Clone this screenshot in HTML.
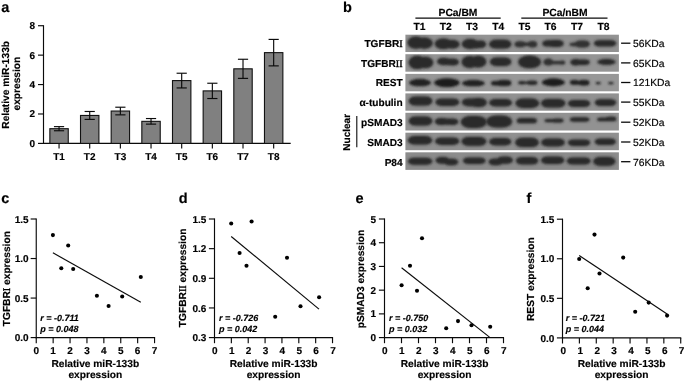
<!DOCTYPE html>
<html><head><meta charset="utf-8"><title>Figure</title>
<style>html,body{margin:0;padding:0;background:#fff;}svg{display:block;will-change:transform;}text{font-family:"Liberation Sans", sans-serif;fill:#000;stroke:#000;stroke-width:0.16px;text-rendering:geometricPrecision;}.rn{font-family:"Liberation Serif", serif;font-weight:normal;stroke:#000;stroke-width:0.4px;}</style></head><body>
<svg width="685" height="382" viewBox="0 0 685 382">
<rect x="0" y="0" width="685" height="382" fill="#fff"/>
<defs><filter id="bl" x="-30%" y="-80%" width="160%" height="260%"><feGaussianBlur stdDeviation="1.0"/></filter><filter id="halo" x="-40%" y="-150%" width="180%" height="400%"><feGaussianBlur stdDeviation="2.2"/></filter></defs>
<text x="1.3" y="12.4" font-size="14.5" text-anchor="start" font-weight="bold" font-style="normal">a</text>
<text x="343.0" y="11.9" font-size="14.5" text-anchor="start" font-weight="bold" font-style="normal">b</text>
<text x="1.2" y="203.0" font-size="14.5" text-anchor="start" font-weight="bold" font-style="normal">c</text>
<text x="178.8" y="202.6" font-size="14.5" text-anchor="start" font-weight="bold" font-style="normal">d</text>
<text x="355.5" y="202.6" font-size="14.5" text-anchor="start" font-weight="bold" font-style="normal">e</text>
<text x="526.6" y="202.6" font-size="14.5" text-anchor="start" font-weight="bold" font-style="normal">f</text>
<line x1="43.5" y1="25.22" x2="43.5" y2="143.9" stroke="#0a0a0a" stroke-width="1.15"/>
<line x1="43" y1="143.4" x2="290.7" y2="143.4" stroke="#0a0a0a" stroke-width="1.15"/>
<line x1="38" y1="143.4" x2="43.5" y2="143.4" stroke="#0a0a0a" stroke-width="1.15"/>
<text x="35.0" y="146.8" font-size="10.0" text-anchor="end" font-weight="bold" font-style="normal">0</text>
<line x1="38" y1="113.98" x2="43.5" y2="113.98" stroke="#0a0a0a" stroke-width="1.15"/>
<text x="35.0" y="117.38" font-size="10.0" text-anchor="end" font-weight="bold" font-style="normal">2</text>
<line x1="38" y1="84.56" x2="43.5" y2="84.56" stroke="#0a0a0a" stroke-width="1.15"/>
<text x="35.0" y="87.96" font-size="10.0" text-anchor="end" font-weight="bold" font-style="normal">4</text>
<line x1="38" y1="55.14" x2="43.5" y2="55.14" stroke="#0a0a0a" stroke-width="1.15"/>
<text x="35.0" y="58.54" font-size="10.0" text-anchor="end" font-weight="bold" font-style="normal">6</text>
<line x1="38" y1="25.72" x2="43.5" y2="25.72" stroke="#0a0a0a" stroke-width="1.15"/>
<text x="35.0" y="29.12" font-size="10.0" text-anchor="end" font-weight="bold" font-style="normal">8</text>
<rect x="49.85" y="128.69" width="18.4" height="14.71" fill="#808080" stroke="#111" stroke-width="1.1"/>
<line x1="59.05" y1="126.63" x2="59.05" y2="130.75" stroke="#0a0a0a" stroke-width="1.15"/>
<line x1="53.95" y1="126.63" x2="64.15" y2="126.63" stroke="#0a0a0a" stroke-width="1.15"/>
<line x1="53.95" y1="130.75" x2="64.15" y2="130.75" stroke="#0a0a0a" stroke-width="1.15"/>
<line x1="59.05" y1="143.4" x2="59.05" y2="148.6" stroke="#0a0a0a" stroke-width="1.15"/>
<text x="59.05" y="160.0" font-size="10.0" text-anchor="middle" font-weight="bold" font-style="normal">T1</text>
<rect x="80.51" y="115.45" width="18.4" height="27.95" fill="#808080" stroke="#111" stroke-width="1.1"/>
<line x1="89.71" y1="111.48" x2="89.71" y2="119.42" stroke="#0a0a0a" stroke-width="1.15"/>
<line x1="84.61" y1="111.48" x2="94.81" y2="111.48" stroke="#0a0a0a" stroke-width="1.15"/>
<line x1="84.61" y1="119.42" x2="94.81" y2="119.42" stroke="#0a0a0a" stroke-width="1.15"/>
<line x1="89.71" y1="143.4" x2="89.71" y2="148.6" stroke="#0a0a0a" stroke-width="1.15"/>
<text x="89.71" y="160.0" font-size="10.0" text-anchor="middle" font-weight="bold" font-style="normal">T2</text>
<rect x="111.17" y="111.04" width="18.4" height="32.36" fill="#808080" stroke="#111" stroke-width="1.1"/>
<line x1="120.37" y1="107.21" x2="120.37" y2="114.86" stroke="#0a0a0a" stroke-width="1.15"/>
<line x1="115.27" y1="107.21" x2="125.47" y2="107.21" stroke="#0a0a0a" stroke-width="1.15"/>
<line x1="115.27" y1="114.86" x2="125.47" y2="114.86" stroke="#0a0a0a" stroke-width="1.15"/>
<line x1="120.37" y1="143.4" x2="120.37" y2="148.6" stroke="#0a0a0a" stroke-width="1.15"/>
<text x="120.37" y="160.0" font-size="10.0" text-anchor="middle" font-weight="bold" font-style="normal">T3</text>
<rect x="141.83" y="121.34" width="18.4" height="22.06" fill="#808080" stroke="#111" stroke-width="1.1"/>
<line x1="151.03" y1="118.54" x2="151.03" y2="124.13" stroke="#0a0a0a" stroke-width="1.15"/>
<line x1="145.93" y1="118.54" x2="156.13" y2="118.54" stroke="#0a0a0a" stroke-width="1.15"/>
<line x1="145.93" y1="124.13" x2="156.13" y2="124.13" stroke="#0a0a0a" stroke-width="1.15"/>
<line x1="151.03" y1="143.4" x2="151.03" y2="148.6" stroke="#0a0a0a" stroke-width="1.15"/>
<text x="151.03" y="160.0" font-size="10.0" text-anchor="middle" font-weight="bold" font-style="normal">T4</text>
<rect x="172.49" y="80.59" width="18.4" height="62.81" fill="#808080" stroke="#111" stroke-width="1.1"/>
<line x1="181.69" y1="73.23" x2="181.69" y2="87.94" stroke="#0a0a0a" stroke-width="1.15"/>
<line x1="176.59" y1="73.23" x2="186.79" y2="73.23" stroke="#0a0a0a" stroke-width="1.15"/>
<line x1="176.59" y1="87.94" x2="186.79" y2="87.94" stroke="#0a0a0a" stroke-width="1.15"/>
<line x1="181.69" y1="143.4" x2="181.69" y2="148.6" stroke="#0a0a0a" stroke-width="1.15"/>
<text x="181.69" y="160.0" font-size="10.0" text-anchor="middle" font-weight="bold" font-style="normal">T5</text>
<rect x="203.15" y="90.89" width="18.4" height="52.51" fill="#808080" stroke="#111" stroke-width="1.1"/>
<line x1="212.35" y1="83.24" x2="212.35" y2="98.53" stroke="#0a0a0a" stroke-width="1.15"/>
<line x1="207.25" y1="83.24" x2="217.45" y2="83.24" stroke="#0a0a0a" stroke-width="1.15"/>
<line x1="207.25" y1="98.53" x2="217.45" y2="98.53" stroke="#0a0a0a" stroke-width="1.15"/>
<line x1="212.35" y1="143.4" x2="212.35" y2="148.6" stroke="#0a0a0a" stroke-width="1.15"/>
<text x="212.35" y="160.0" font-size="10.0" text-anchor="middle" font-weight="bold" font-style="normal">T6</text>
<rect x="233.81" y="68.82" width="18.4" height="74.58" fill="#808080" stroke="#111" stroke-width="1.1"/>
<line x1="243.01" y1="59.26" x2="243.01" y2="78.38" stroke="#0a0a0a" stroke-width="1.15"/>
<line x1="237.91" y1="59.26" x2="248.11" y2="59.26" stroke="#0a0a0a" stroke-width="1.15"/>
<line x1="237.91" y1="78.38" x2="248.11" y2="78.38" stroke="#0a0a0a" stroke-width="1.15"/>
<line x1="243.01" y1="143.4" x2="243.01" y2="148.6" stroke="#0a0a0a" stroke-width="1.15"/>
<text x="243.01" y="160.0" font-size="10.0" text-anchor="middle" font-weight="bold" font-style="normal">T7</text>
<rect x="264.47" y="52.64" width="18.4" height="90.76" fill="#808080" stroke="#111" stroke-width="1.1"/>
<line x1="273.67" y1="39.4" x2="273.67" y2="65.88" stroke="#0a0a0a" stroke-width="1.15"/>
<line x1="268.57" y1="39.4" x2="278.77" y2="39.4" stroke="#0a0a0a" stroke-width="1.15"/>
<line x1="268.57" y1="65.88" x2="278.77" y2="65.88" stroke="#0a0a0a" stroke-width="1.15"/>
<line x1="273.67" y1="143.4" x2="273.67" y2="148.6" stroke="#0a0a0a" stroke-width="1.15"/>
<text x="273.67" y="160.0" font-size="10.0" text-anchor="middle" font-weight="bold" font-style="normal">T8</text>
<text x="9.2" y="84.8" font-size="10.2" text-anchor="middle" font-weight="bold" font-style="normal" transform="rotate(-90 9.2 84.8)">Relative miR-133b</text>
<text x="19.7" y="83.6" font-size="10.2" text-anchor="middle" font-weight="bold" font-style="normal" transform="rotate(-90 19.7 83.6)">expression</text>
<text x="458.0" y="15.8" font-size="10.3" text-anchor="middle" font-weight="bold" font-style="normal">PCa/BM</text>
<text x="565.0" y="15.8" font-size="10.3" text-anchor="middle" font-weight="bold" font-style="normal">PCa/nBM</text>
<line x1="415.4" y1="18.1" x2="500.7" y2="18.1" stroke="#0a0a0a" stroke-width="1.1"/>
<line x1="521.3" y1="18.1" x2="607.5" y2="18.1" stroke="#0a0a0a" stroke-width="1.1"/>
<text x="419.5" y="30.3" font-size="10.3" text-anchor="middle" font-weight="bold" font-style="normal">T1</text>
<text x="445.8" y="30.3" font-size="10.3" text-anchor="middle" font-weight="bold" font-style="normal">T2</text>
<text x="471.9" y="30.3" font-size="10.3" text-anchor="middle" font-weight="bold" font-style="normal">T3</text>
<text x="498.2" y="30.3" font-size="10.3" text-anchor="middle" font-weight="bold" font-style="normal">T4</text>
<text x="524.4" y="30.3" font-size="10.3" text-anchor="middle" font-weight="bold" font-style="normal">T5</text>
<text x="550.6" y="30.3" font-size="10.3" text-anchor="middle" font-weight="bold" font-style="normal">T6</text>
<text x="577.0" y="30.3" font-size="10.3" text-anchor="middle" font-weight="bold" font-style="normal">T7</text>
<text x="603.5" y="30.3" font-size="10.3" text-anchor="middle" font-weight="bold" font-style="normal">T8</text>
<rect x="405.4" y="34.7" width="213.5" height="17.3" fill="#939393"/>
<text x="402.6" y="47.1" font-size="10.1" text-anchor="end" font-weight="bold" font-style="normal">TGFBR<tspan class="rn">I</tspan></text>
<line x1="621.1" y1="43.2" x2="630.4" y2="43.2" stroke="#0a0a0a" stroke-width="1.3"/>
<text x="633.0" y="47.1" font-size="10.3" text-anchor="start" font-weight="normal" font-style="normal" stroke="#000" stroke-width="0.25">56KDa</text>
<rect x="405.4" y="54.2" width="213.5" height="17.5" fill="#949494"/>
<text x="402.6" y="66.8" font-size="10.1" text-anchor="end" font-weight="bold" font-style="normal">TGFBR<tspan class="rn">II</tspan></text>
<line x1="621.1" y1="62.9" x2="630.4" y2="62.9" stroke="#0a0a0a" stroke-width="1.3"/>
<text x="633.0" y="66.8" font-size="10.3" text-anchor="start" font-weight="normal" font-style="normal" stroke="#000" stroke-width="0.25">65KDa</text>
<rect x="405.4" y="73.9" width="213.5" height="17.4" fill="#979797"/>
<text x="402.6" y="86.4" font-size="10.1" text-anchor="end" font-weight="bold" font-style="normal">REST</text>
<line x1="621.1" y1="82.5" x2="630.4" y2="82.5" stroke="#0a0a0a" stroke-width="1.3"/>
<text x="633.0" y="86.4" font-size="10.3" text-anchor="start" font-weight="normal" font-style="normal" stroke="#000" stroke-width="0.25">121KDa</text>
<rect x="405.4" y="93.4" width="213.5" height="17.3" fill="#919191"/>
<text x="402.6" y="106.0" font-size="10.1" text-anchor="end" font-weight="bold" font-style="normal">&#945;-tubulin</text>
<line x1="621.1" y1="102.1" x2="630.4" y2="102.1" stroke="#0a0a0a" stroke-width="1.3"/>
<text x="633.0" y="106.0" font-size="10.3" text-anchor="start" font-weight="normal" font-style="normal" stroke="#000" stroke-width="0.25">55KDa</text>
<rect x="405.4" y="112.8" width="213.5" height="17.7" fill="#929292"/>
<text x="402.6" y="126.1" font-size="10.1" text-anchor="end" font-weight="bold" font-style="normal">pSMAD3</text>
<line x1="621.1" y1="122.2" x2="630.4" y2="122.2" stroke="#0a0a0a" stroke-width="1.3"/>
<text x="633.0" y="126.1" font-size="10.3" text-anchor="start" font-weight="normal" font-style="normal" stroke="#000" stroke-width="0.25">52KDa</text>
<rect x="405.4" y="132.7" width="213.5" height="17.5" fill="#909090"/>
<text x="402.6" y="145.9" font-size="10.1" text-anchor="end" font-weight="bold" font-style="normal">SMAD3</text>
<line x1="621.1" y1="142" x2="630.4" y2="142" stroke="#0a0a0a" stroke-width="1.3"/>
<text x="633.0" y="145.9" font-size="10.3" text-anchor="start" font-weight="normal" font-style="normal" stroke="#000" stroke-width="0.25">52KDa</text>
<rect x="405.4" y="152.3" width="213.5" height="17.6" fill="#8c8c8c"/>
<text x="402.6" y="165.6" font-size="10.1" text-anchor="end" font-weight="bold" font-style="normal">P84</text>
<line x1="621.1" y1="161.7" x2="630.4" y2="161.7" stroke="#0a0a0a" stroke-width="1.3"/>
<text x="633.0" y="165.6" font-size="10.3" text-anchor="start" font-weight="normal" font-style="normal" stroke="#000" stroke-width="0.25">76KDa</text>
<text x="349.8" y="132.3" font-size="10" text-anchor="middle" font-weight="bold" font-style="normal" transform="rotate(-90 349.8 132.3)">Nuclear</text>
<line x1="356.8" y1="115.9" x2="356.8" y2="147.3" stroke="#0a0a0a" stroke-width="1.1"/>
<clipPath id="cp"><rect x="405.4" y="30" width="213.5" height="145"/></clipPath>
<clipPath id="cs0"><rect x="405.4" y="34.7" width="213.5" height="17.3"/></clipPath>
<clipPath id="cs1"><rect x="405.4" y="54.2" width="213.5" height="17.5"/></clipPath>
<clipPath id="cs2"><rect x="405.4" y="73.9" width="213.5" height="17.4"/></clipPath>
<clipPath id="cs3"><rect x="405.4" y="93.4" width="213.5" height="17.3"/></clipPath>
<clipPath id="cs4"><rect x="405.4" y="112.8" width="213.5" height="17.7"/></clipPath>
<clipPath id="cs5"><rect x="405.4" y="132.7" width="213.5" height="17.5"/></clipPath>
<clipPath id="cs6"><rect x="405.4" y="152.3" width="213.5" height="17.6"/></clipPath>
<g clip-path="url(#cs0)"><g fill="#1c1c1c" opacity="0.3" filter="url(#halo)"><rect x="407.50" y="36.40" width="17.00" height="12.30" rx="8.50" ry="6.15"/><rect x="416.00" y="37.60" width="16.70" height="11.10" rx="8.35" ry="5.55"/></g></g>
<g clip-path="url(#cs0)"><g fill="#1c1c1c" opacity="0.3" filter="url(#halo)"><rect x="434.80" y="38.60" width="17.20" height="10.30" rx="8.24" ry="5.15"/><rect x="445.00" y="40.00" width="14.50" height="8.60" rx="6.88" ry="4.30"/></g></g>
<g clip-path="url(#cs0)"><g fill="#1c1c1c" opacity="0.3" filter="url(#halo)"><rect x="461.90" y="39.10" width="16.60" height="9.90" rx="7.92" ry="4.95"/><rect x="470.00" y="40.80" width="12.00" height="7.60" rx="6.00" ry="3.80"/><rect x="475.50" y="40.50" width="10.50" height="7.50" rx="5.25" ry="3.75"/></g></g>
<g clip-path="url(#cs0)"><g fill="#1c1c1c" opacity="0.3" filter="url(#halo)"><rect x="489.20" y="39.70" width="22.10" height="8.90" rx="7.12" ry="4.45"/></g></g>
<g clip-path="url(#cs0)"><g fill="#1c1c1c" opacity="0.2" filter="url(#halo)"><rect x="514.60" y="41.20" width="11.00" height="6.00" rx="4.80" ry="3.00"/><rect x="521.00" y="42.50" width="11.00" height="3.40" rx="2.72" ry="1.70"/><rect x="528.00" y="40.90" width="9.10" height="6.60" rx="4.55" ry="3.30"/></g></g>
<g clip-path="url(#cs0)"><g fill="#1c1c1c" opacity="0.2" filter="url(#halo)"><rect x="542.30" y="40.20" width="13.70" height="6.40" rx="5.12" ry="3.20"/><rect x="548.00" y="39.90" width="15.70" height="7.10" rx="5.68" ry="3.55"/></g></g>
<g clip-path="url(#cs0)"><g fill="#1c1c1c" opacity="0.2" filter="url(#halo)"><rect x="574.80" y="40.60" width="15.00" height="6.80" rx="5.44" ry="3.40"/><ellipse cx="574.75" cy="44.40" rx="5.25" ry="1.80"/></g></g>
<g clip-path="url(#cs0)"><g fill="#1c1c1c" opacity="0.2" filter="url(#halo)"><rect x="594.00" y="40.20" width="22.10" height="6.30" rx="5.04" ry="3.15"/></g></g>
<g clip-path="url(#cs1)"><g fill="#1c1c1c" opacity="0.3" filter="url(#halo)"><rect x="408.70" y="55.70" width="17.30" height="13.40" rx="8.65" ry="6.70"/><rect x="418.00" y="56.80" width="15.20" height="11.40" rx="7.60" ry="5.70"/></g></g>
<g clip-path="url(#cs1)"><g fill="#1c1c1c" opacity="0.2" filter="url(#halo)"><rect x="437.10" y="57.70" width="12.90" height="7.50" rx="6.00" ry="3.75"/><rect x="443.00" y="58.60" width="11.00" height="6.60" rx="5.28" ry="3.30"/><rect x="447.00" y="58.40" width="11.90" height="7.20" rx="5.76" ry="3.60"/></g></g>
<g clip-path="url(#cs1)"><g fill="#1c1c1c" opacity="0.3" filter="url(#halo)"><rect x="461.60" y="56.00" width="16.40" height="12.00" rx="8.20" ry="6.00"/><rect x="470.00" y="55.70" width="16.30" height="11.90" rx="8.15" ry="5.95"/></g></g>
<g clip-path="url(#cs1)"><g fill="#1c1c1c" opacity="0.3" filter="url(#halo)"><rect x="490.00" y="57.40" width="21.30" height="8.50" rx="6.80" ry="4.25"/></g></g>
<g clip-path="url(#cs1)"><g fill="#1c1c1c" opacity="0.3" filter="url(#halo)"><rect x="518.20" y="55.90" width="22.80" height="12.00" rx="9.60" ry="6.00"/><ellipse cx="529.50" cy="61.90" rx="10.00" ry="6.30"/></g></g>
<g clip-path="url(#cs1)"><g fill="#1c1c1c" opacity="0.2" filter="url(#halo)"><rect x="543.30" y="58.60" width="10.10" height="7.00" rx="5.05" ry="3.50"/><rect x="549.00" y="60.90" width="15.80" height="3.40" rx="2.72" ry="1.70"/><ellipse cx="562.35" cy="62.60" rx="2.85" ry="2.00"/></g></g>
<g clip-path="url(#cs1)"><g fill="#1c1c1c" opacity="0.2" filter="url(#halo)"><rect x="570.40" y="59.10" width="10.60" height="6.30" rx="5.04" ry="3.15"/><rect x="576.00" y="59.60" width="13.60" height="5.50" rx="4.40" ry="2.75"/></g></g>
<g clip-path="url(#cs1)"><g fill="#1c1c1c" opacity="0.2" filter="url(#halo)"><ellipse cx="606.50" cy="61.95" rx="9.30" ry="2.85"/><rect x="600.00" y="59.50" width="13.50" height="4.90" rx="3.92" ry="2.45"/></g></g>
<g clip-path="url(#cs2)"><g fill="#1c1c1c" opacity="0.2" filter="url(#halo)"><ellipse cx="420.05" cy="82.65" rx="11.05" ry="3.55"/><rect x="412.00" y="79.50" width="16.00" height="6.40" rx="5.12" ry="3.20"/></g></g>
<g clip-path="url(#cs2)"><g fill="#1c1c1c" opacity="0.3" filter="url(#halo)"><ellipse cx="446.90" cy="82.80" rx="12.60" ry="4.20"/><rect x="438.00" y="79.00" width="18.00" height="7.60" rx="6.08" ry="3.80"/></g></g>
<g clip-path="url(#cs2)"><g fill="#1c1c1c" opacity="0.2" filter="url(#halo)"><ellipse cx="473.40" cy="83.20" rx="11.40" ry="3.10"/><rect x="465.00" y="80.50" width="16.00" height="5.50" rx="4.40" ry="2.75"/></g></g>
<g clip-path="url(#cs2)"><g fill="#1c1c1c" opacity="0.2" filter="url(#halo)"><rect x="491.10" y="81.10" width="12.90" height="4.40" rx="3.52" ry="2.20"/><rect x="497.00" y="80.10" width="14.30" height="5.90" rx="4.72" ry="2.95"/></g></g>
<g clip-path="url(#cs2)"><g fill="#1c1c1c" opacity="0.12" filter="url(#halo)"><rect x="518.00" y="81.00" width="8.00" height="3.50" rx="2.80" ry="1.75"/><rect x="523.00" y="81.80" width="7.00" height="2.30" rx="1.84" ry="1.15"/><rect x="526.80" y="80.60" width="10.60" height="4.50" rx="3.60" ry="2.25"/></g></g>
<g clip-path="url(#cs2)"><g fill="#1c1c1c" opacity="0.2" filter="url(#halo)"><ellipse cx="553.40" cy="82.40" rx="11.40" ry="3.80"/><rect x="546.00" y="79.20" width="15.00" height="6.50" rx="5.20" ry="3.25"/></g></g>
<g clip-path="url(#cs2)"><g fill="#1c1c1c" opacity="0.2" filter="url(#halo)"><rect x="570.00" y="80.10" width="9.00" height="4.70" rx="3.76" ry="2.35"/><rect x="575.00" y="81.00" width="7.00" height="3.40" rx="2.72" ry="1.70"/><rect x="578.20" y="80.10" width="11.30" height="5.40" rx="4.32" ry="2.70"/></g></g>
<g clip-path="url(#cs2)"><g fill="#1c1c1c" opacity="0.12" filter="url(#halo)"><ellipse cx="598.20" cy="83.10" rx="2.60" ry="1.20"/></g></g>
<g clip-path="url(#cs2)"><g fill="#1c1c1c" opacity="0.12" filter="url(#halo)"><ellipse cx="610.90" cy="83.10" rx="2.70" ry="1.20"/></g></g>
<g clip-path="url(#cs3)"><g fill="#1c1c1c" opacity="0.3" filter="url(#halo)"><rect x="408.70" y="96.40" width="23.70" height="9.20" rx="7.36" ry="4.60"/></g></g>
<g clip-path="url(#cs3)"><g fill="#1c1c1c" opacity="0.2" filter="url(#halo)"><rect x="435.50" y="98.50" width="23.70" height="7.40" rx="5.92" ry="3.70"/></g></g>
<g clip-path="url(#cs3)"><g fill="#1c1c1c" opacity="0.3" filter="url(#halo)"><rect x="462.00" y="98.40" width="18.00" height="7.80" rx="6.24" ry="3.90"/><rect x="470.00" y="98.00" width="16.80" height="9.00" rx="7.20" ry="4.50"/></g></g>
<g clip-path="url(#cs3)"><g fill="#1c1c1c" opacity="0.2" filter="url(#halo)"><rect x="489.20" y="99.10" width="22.80" height="7.30" rx="5.84" ry="3.65"/></g></g>
<g clip-path="url(#cs3)"><g fill="#1c1c1c" opacity="0.3" filter="url(#halo)"><rect x="515.50" y="98.50" width="23.60" height="9.50" rx="7.60" ry="4.75"/></g></g>
<g clip-path="url(#cs3)"><g fill="#1c1c1c" opacity="0.3" filter="url(#halo)"><rect x="541.20" y="99.10" width="24.10" height="8.40" rx="6.72" ry="4.20"/></g></g>
<g clip-path="url(#cs3)"><g fill="#1c1c1c" opacity="0.2" filter="url(#halo)"><rect x="568.00" y="100.10" width="22.10" height="6.90" rx="5.52" ry="3.45"/></g></g>
<g clip-path="url(#cs3)"><g fill="#1c1c1c" opacity="0.2" filter="url(#halo)"><rect x="594.80" y="99.30" width="21.30" height="6.60" rx="5.28" ry="3.30"/></g></g>
<g clip-path="url(#cs4)"><g fill="#1c1c1c" opacity="0.3" filter="url(#halo)"><rect x="408.70" y="116.50" width="23.70" height="9.00" rx="7.20" ry="4.50"/></g></g>
<g clip-path="url(#cs4)"><g fill="#1c1c1c" opacity="0.2" filter="url(#halo)"><rect x="434.80" y="118.00" width="13.70" height="7.00" rx="5.60" ry="3.50"/><rect x="442.00" y="118.40" width="11.00" height="6.40" rx="5.12" ry="3.20"/><rect x="446.50" y="118.50" width="11.90" height="6.50" rx="5.20" ry="3.25"/></g></g>
<g clip-path="url(#cs4)"><g fill="#1c1c1c" opacity="0.3" filter="url(#halo)"><rect x="460.80" y="116.00" width="25.90" height="12.00" rx="9.60" ry="6.00"/></g></g>
<g clip-path="url(#cs4)"><g fill="#1c1c1c" opacity="0.3" filter="url(#halo)"><rect x="486.30" y="115.40" width="25.70" height="12.20" rx="9.76" ry="6.10"/></g></g>
<g clip-path="url(#cs4)"><g fill="#1c1c1c" opacity="0.2" filter="url(#halo)"><rect x="516.70" y="118.10" width="20.20" height="5.20" rx="4.16" ry="2.60"/></g></g>
<g clip-path="url(#cs4)"><g fill="#1c1c1c" opacity="0.12" filter="url(#halo)"><rect x="544.30" y="119.00" width="19.00" height="3.20" rx="2.56" ry="1.60"/><rect x="552.00" y="118.50" width="11.50" height="4.00" rx="3.20" ry="2.00"/></g></g>
<g clip-path="url(#cs4)"><g fill="#1c1c1c" opacity="0.12" filter="url(#halo)"><rect x="570.00" y="117.30" width="19.30" height="4.40" rx="3.52" ry="2.20"/></g></g>
<g clip-path="url(#cs4)"><g fill="#1c1c1c" opacity="0.12" filter="url(#halo)"><rect x="597.20" y="117.50" width="18.90" height="3.80" rx="3.04" ry="1.90"/><rect x="606.00" y="116.50" width="10.30" height="4.60" rx="3.68" ry="2.30"/></g></g>
<g clip-path="url(#cs5)"><g fill="#1c1c1c" opacity="0.3" filter="url(#halo)"><rect x="407.90" y="135.90" width="24.20" height="8.70" rx="6.96" ry="4.35"/></g></g>
<g clip-path="url(#cs5)"><g fill="#1c1c1c" opacity="0.2" filter="url(#halo)"><rect x="435.20" y="137.50" width="24.00" height="7.40" rx="5.92" ry="3.70"/></g></g>
<g clip-path="url(#cs5)"><g fill="#1c1c1c" opacity="0.3" filter="url(#halo)"><rect x="461.60" y="137.00" width="24.70" height="8.70" rx="6.96" ry="4.35"/></g></g>
<g clip-path="url(#cs5)"><g fill="#1c1c1c" opacity="0.2" filter="url(#halo)"><rect x="489.20" y="138.10" width="22.10" height="7.30" rx="5.84" ry="3.65"/></g></g>
<g clip-path="url(#cs5)"><g fill="#1c1c1c" opacity="0.3" filter="url(#halo)"><rect x="515.20" y="137.80" width="23.60" height="9.20" rx="7.36" ry="4.60"/></g></g>
<g clip-path="url(#cs5)"><g fill="#1c1c1c" opacity="0.2" filter="url(#halo)"><rect x="541.20" y="138.60" width="23.60" height="7.90" rx="6.32" ry="3.95"/></g></g>
<g clip-path="url(#cs5)"><g fill="#1c1c1c" opacity="0.2" filter="url(#halo)"><rect x="568.00" y="139.40" width="22.10" height="6.60" rx="5.28" ry="3.30"/></g></g>
<g clip-path="url(#cs5)"><g fill="#1c1c1c" opacity="0.2" filter="url(#halo)"><rect x="594.80" y="138.60" width="21.00" height="6.30" rx="5.04" ry="3.15"/></g></g>
<g clip-path="url(#cs6)"><g fill="#1c1c1c" opacity="0.2" filter="url(#halo)"><rect x="408.00" y="157.70" width="24.20" height="7.10" rx="5.68" ry="3.55"/></g></g>
<g clip-path="url(#cs6)"><g fill="#1c1c1c" opacity="0.2" filter="url(#halo)"><rect x="435.60" y="156.90" width="13.90" height="6.90" rx="5.52" ry="3.45"/><rect x="444.00" y="158.80" width="14.20" height="6.50" rx="5.20" ry="3.25"/></g></g>
<g clip-path="url(#cs6)"><g fill="#1c1c1c" opacity="0.2" filter="url(#halo)"><rect x="463.00" y="157.40" width="22.60" height="6.70" rx="5.36" ry="3.35"/></g></g>
<g clip-path="url(#cs6)"><g fill="#1c1c1c" opacity="0.2" filter="url(#halo)"><rect x="488.60" y="158.40" width="14.40" height="6.90" rx="5.52" ry="3.45"/><rect x="497.00" y="156.40" width="15.80" height="7.40" rx="5.92" ry="3.70"/></g></g>
<g clip-path="url(#cs6)"><g fill="#1c1c1c" opacity="0.2" filter="url(#halo)"><rect x="516.00" y="156.90" width="22.20" height="7.60" rx="6.08" ry="3.80"/></g></g>
<g clip-path="url(#cs6)"><g fill="#1c1c1c" opacity="0.2" filter="url(#halo)"><rect x="541.20" y="156.40" width="23.00" height="7.70" rx="6.16" ry="3.85"/></g></g>
<g clip-path="url(#cs6)"><g fill="#1c1c1c" opacity="0.2" filter="url(#halo)"><rect x="566.80" y="157.40" width="23.80" height="7.10" rx="5.68" ry="3.55"/></g></g>
<g clip-path="url(#cs6)"><g fill="#1c1c1c" opacity="0.3" filter="url(#halo)"><rect x="593.30" y="156.90" width="22.10" height="8.90" rx="7.12" ry="4.45"/></g></g>
<g clip-path="url(#cs0)"><g fill="#2a2a2a" filter="url(#bl)"><rect x="407.50" y="36.40" width="17.00" height="12.30" rx="8.50" ry="6.15"/><rect x="416.00" y="37.60" width="16.70" height="11.10" rx="8.35" ry="5.55"/></g></g>
<g clip-path="url(#cs0)"><g fill="#2a2a2a" filter="url(#bl)"><rect x="434.80" y="38.60" width="17.20" height="10.30" rx="8.24" ry="5.15"/><rect x="445.00" y="40.00" width="14.50" height="8.60" rx="6.88" ry="4.30"/></g></g>
<g clip-path="url(#cs0)"><g fill="#2a2a2a" filter="url(#bl)"><rect x="461.90" y="39.10" width="16.60" height="9.90" rx="7.92" ry="4.95"/><rect x="470.00" y="40.80" width="12.00" height="7.60" rx="6.00" ry="3.80"/><rect x="475.50" y="40.50" width="10.50" height="7.50" rx="5.25" ry="3.75"/></g></g>
<g clip-path="url(#cs0)"><g fill="#2a2a2a" filter="url(#bl)"><rect x="489.20" y="39.70" width="22.10" height="8.90" rx="7.12" ry="4.45"/></g></g>
<g clip-path="url(#cs0)"><g fill="#323232" filter="url(#bl)"><rect x="514.60" y="41.20" width="11.00" height="6.00" rx="4.80" ry="3.00"/><rect x="521.00" y="42.50" width="11.00" height="3.40" rx="2.72" ry="1.70"/><rect x="528.00" y="40.90" width="9.10" height="6.60" rx="4.55" ry="3.30"/></g></g>
<g clip-path="url(#cs0)"><g fill="#2a2a2a" filter="url(#bl)"><rect x="542.30" y="40.20" width="13.70" height="6.40" rx="5.12" ry="3.20"/><rect x="548.00" y="39.90" width="15.70" height="7.10" rx="5.68" ry="3.55"/></g></g>
<g clip-path="url(#cs0)"><g fill="#323232" filter="url(#bl)"><rect x="574.80" y="40.60" width="15.00" height="6.80" rx="5.44" ry="3.40"/><ellipse cx="574.75" cy="44.40" rx="5.25" ry="1.80"/></g></g>
<g clip-path="url(#cs0)"><g fill="#2a2a2a" filter="url(#bl)"><rect x="594.00" y="40.20" width="22.10" height="6.30" rx="5.04" ry="3.15"/></g></g>
<g clip-path="url(#cs1)"><g fill="#2a2a2a" filter="url(#bl)"><rect x="408.70" y="55.70" width="17.30" height="13.40" rx="8.65" ry="6.70"/><rect x="418.00" y="56.80" width="15.20" height="11.40" rx="7.60" ry="5.70"/></g></g>
<g clip-path="url(#cs1)"><g fill="#2a2a2a" filter="url(#bl)"><rect x="437.10" y="57.70" width="12.90" height="7.50" rx="6.00" ry="3.75"/><rect x="443.00" y="58.60" width="11.00" height="6.60" rx="5.28" ry="3.30"/><rect x="447.00" y="58.40" width="11.90" height="7.20" rx="5.76" ry="3.60"/></g></g>
<g clip-path="url(#cs1)"><g fill="#2a2a2a" filter="url(#bl)"><rect x="461.60" y="56.00" width="16.40" height="12.00" rx="8.20" ry="6.00"/><rect x="470.00" y="55.70" width="16.30" height="11.90" rx="8.15" ry="5.95"/></g></g>
<g clip-path="url(#cs1)"><g fill="#2a2a2a" filter="url(#bl)"><rect x="490.00" y="57.40" width="21.30" height="8.50" rx="6.80" ry="4.25"/></g></g>
<g clip-path="url(#cs1)"><g fill="#2a2a2a" filter="url(#bl)"><rect x="518.20" y="55.90" width="22.80" height="12.00" rx="9.60" ry="6.00"/><ellipse cx="529.50" cy="61.90" rx="10.00" ry="6.30"/></g></g>
<g clip-path="url(#cs1)"><g fill="#323232" filter="url(#bl)"><rect x="543.30" y="58.60" width="10.10" height="7.00" rx="5.05" ry="3.50"/><rect x="549.00" y="60.90" width="15.80" height="3.40" rx="2.72" ry="1.70"/><ellipse cx="562.35" cy="62.60" rx="2.85" ry="2.00"/></g></g>
<g clip-path="url(#cs1)"><g fill="#2a2a2a" filter="url(#bl)"><rect x="570.40" y="59.10" width="10.60" height="6.30" rx="5.04" ry="3.15"/><rect x="576.00" y="59.60" width="13.60" height="5.50" rx="4.40" ry="2.75"/></g></g>
<g clip-path="url(#cs1)"><g fill="#2a2a2a" filter="url(#bl)"><ellipse cx="606.50" cy="61.95" rx="9.30" ry="2.85"/><rect x="600.00" y="59.50" width="13.50" height="4.90" rx="3.92" ry="2.45"/></g></g>
<g clip-path="url(#cs2)"><g fill="#222222" filter="url(#bl)"><ellipse cx="420.05" cy="82.65" rx="11.05" ry="3.55"/><rect x="412.00" y="79.50" width="16.00" height="6.40" rx="5.12" ry="3.20"/></g></g>
<g clip-path="url(#cs2)"><g fill="#1d1d1d" filter="url(#bl)"><ellipse cx="446.90" cy="82.80" rx="12.60" ry="4.20"/><rect x="438.00" y="79.00" width="18.00" height="7.60" rx="6.08" ry="3.80"/></g></g>
<g clip-path="url(#cs2)"><g fill="#222222" filter="url(#bl)"><ellipse cx="473.40" cy="83.20" rx="11.40" ry="3.10"/><rect x="465.00" y="80.50" width="16.00" height="5.50" rx="4.40" ry="2.75"/></g></g>
<g clip-path="url(#cs2)"><g fill="#222222" filter="url(#bl)"><rect x="491.10" y="81.10" width="12.90" height="4.40" rx="3.52" ry="2.20"/><rect x="497.00" y="80.10" width="14.30" height="5.90" rx="4.72" ry="2.95"/></g></g>
<g clip-path="url(#cs2)"><g fill="#2a2a2a" filter="url(#bl)"><rect x="518.00" y="81.00" width="8.00" height="3.50" rx="2.80" ry="1.75"/><rect x="523.00" y="81.80" width="7.00" height="2.30" rx="1.84" ry="1.15"/><rect x="526.80" y="80.60" width="10.60" height="4.50" rx="3.60" ry="2.25"/></g></g>
<g clip-path="url(#cs2)"><g fill="#1d1d1d" filter="url(#bl)"><ellipse cx="553.40" cy="82.40" rx="11.40" ry="3.80"/><rect x="546.00" y="79.20" width="15.00" height="6.50" rx="5.20" ry="3.25"/></g></g>
<g clip-path="url(#cs2)"><g fill="#222222" filter="url(#bl)"><rect x="570.00" y="80.10" width="9.00" height="4.70" rx="3.76" ry="2.35"/><rect x="575.00" y="81.00" width="7.00" height="3.40" rx="2.72" ry="1.70"/><rect x="578.20" y="80.10" width="11.30" height="5.40" rx="4.32" ry="2.70"/></g></g>
<g clip-path="url(#cs2)"><g fill="#1d1d1d" filter="url(#bl)"><ellipse cx="598.20" cy="83.10" rx="2.60" ry="1.20"/></g></g>
<g clip-path="url(#cs2)"><g fill="#1d1d1d" filter="url(#bl)"><ellipse cx="610.90" cy="83.10" rx="2.70" ry="1.20"/></g></g>
<g clip-path="url(#cs3)"><g fill="#2a2a2a" filter="url(#bl)"><rect x="408.70" y="96.40" width="23.70" height="9.20" rx="7.36" ry="4.60"/></g></g>
<g clip-path="url(#cs3)"><g fill="#2a2a2a" filter="url(#bl)"><rect x="435.50" y="98.50" width="23.70" height="7.40" rx="5.92" ry="3.70"/></g></g>
<g clip-path="url(#cs3)"><g fill="#2a2a2a" filter="url(#bl)"><rect x="462.00" y="98.40" width="18.00" height="7.80" rx="6.24" ry="3.90"/><rect x="470.00" y="98.00" width="16.80" height="9.00" rx="7.20" ry="4.50"/></g></g>
<g clip-path="url(#cs3)"><g fill="#2a2a2a" filter="url(#bl)"><rect x="489.20" y="99.10" width="22.80" height="7.30" rx="5.84" ry="3.65"/></g></g>
<g clip-path="url(#cs3)"><g fill="#2a2a2a" filter="url(#bl)"><rect x="515.50" y="98.50" width="23.60" height="9.50" rx="7.60" ry="4.75"/></g></g>
<g clip-path="url(#cs3)"><g fill="#2a2a2a" filter="url(#bl)"><rect x="541.20" y="99.10" width="24.10" height="8.40" rx="6.72" ry="4.20"/></g></g>
<g clip-path="url(#cs3)"><g fill="#2a2a2a" filter="url(#bl)"><rect x="568.00" y="100.10" width="22.10" height="6.90" rx="5.52" ry="3.45"/></g></g>
<g clip-path="url(#cs3)"><g fill="#2a2a2a" filter="url(#bl)"><rect x="594.80" y="99.30" width="21.30" height="6.60" rx="5.28" ry="3.30"/></g></g>
<g clip-path="url(#cs4)"><g fill="#2a2a2a" filter="url(#bl)"><rect x="408.70" y="116.50" width="23.70" height="9.00" rx="7.20" ry="4.50"/></g></g>
<g clip-path="url(#cs4)"><g fill="#2a2a2a" filter="url(#bl)"><rect x="434.80" y="118.00" width="13.70" height="7.00" rx="5.60" ry="3.50"/><rect x="442.00" y="118.40" width="11.00" height="6.40" rx="5.12" ry="3.20"/><rect x="446.50" y="118.50" width="11.90" height="6.50" rx="5.20" ry="3.25"/></g></g>
<g clip-path="url(#cs4)"><g fill="#2a2a2a" filter="url(#bl)"><rect x="460.80" y="116.00" width="25.90" height="12.00" rx="9.60" ry="6.00"/></g></g>
<g clip-path="url(#cs4)"><g fill="#2a2a2a" filter="url(#bl)"><rect x="486.30" y="115.40" width="25.70" height="12.20" rx="9.76" ry="6.10"/></g></g>
<g clip-path="url(#cs4)"><g fill="#2a2a2a" filter="url(#bl)"><rect x="516.70" y="118.10" width="20.20" height="5.20" rx="4.16" ry="2.60"/></g></g>
<g clip-path="url(#cs4)"><g fill="#2a2a2a" filter="url(#bl)"><rect x="544.30" y="119.00" width="19.00" height="3.20" rx="2.56" ry="1.60"/><rect x="552.00" y="118.50" width="11.50" height="4.00" rx="3.20" ry="2.00"/></g></g>
<g clip-path="url(#cs4)"><g fill="#2a2a2a" filter="url(#bl)"><rect x="570.00" y="117.30" width="19.30" height="4.40" rx="3.52" ry="2.20"/></g></g>
<g clip-path="url(#cs4)"><g fill="#2a2a2a" filter="url(#bl)"><rect x="597.20" y="117.50" width="18.90" height="3.80" rx="3.04" ry="1.90"/><rect x="606.00" y="116.50" width="10.30" height="4.60" rx="3.68" ry="2.30"/></g></g>
<g clip-path="url(#cs5)"><g fill="#2a2a2a" filter="url(#bl)"><rect x="407.90" y="135.90" width="24.20" height="8.70" rx="6.96" ry="4.35"/></g></g>
<g clip-path="url(#cs5)"><g fill="#2a2a2a" filter="url(#bl)"><rect x="435.20" y="137.50" width="24.00" height="7.40" rx="5.92" ry="3.70"/></g></g>
<g clip-path="url(#cs5)"><g fill="#2a2a2a" filter="url(#bl)"><rect x="461.60" y="137.00" width="24.70" height="8.70" rx="6.96" ry="4.35"/></g></g>
<g clip-path="url(#cs5)"><g fill="#2a2a2a" filter="url(#bl)"><rect x="489.20" y="138.10" width="22.10" height="7.30" rx="5.84" ry="3.65"/></g></g>
<g clip-path="url(#cs5)"><g fill="#2a2a2a" filter="url(#bl)"><rect x="515.20" y="137.80" width="23.60" height="9.20" rx="7.36" ry="4.60"/></g></g>
<g clip-path="url(#cs5)"><g fill="#2a2a2a" filter="url(#bl)"><rect x="541.20" y="138.60" width="23.60" height="7.90" rx="6.32" ry="3.95"/></g></g>
<g clip-path="url(#cs5)"><g fill="#2a2a2a" filter="url(#bl)"><rect x="568.00" y="139.40" width="22.10" height="6.60" rx="5.28" ry="3.30"/></g></g>
<g clip-path="url(#cs5)"><g fill="#2a2a2a" filter="url(#bl)"><rect x="594.80" y="138.60" width="21.00" height="6.30" rx="5.04" ry="3.15"/></g></g>
<g clip-path="url(#cs6)"><g fill="#2a2a2a" filter="url(#bl)"><rect x="408.00" y="157.70" width="24.20" height="7.10" rx="5.68" ry="3.55"/></g></g>
<g clip-path="url(#cs6)"><g fill="#2a2a2a" filter="url(#bl)"><rect x="435.60" y="156.90" width="13.90" height="6.90" rx="5.52" ry="3.45"/><rect x="444.00" y="158.80" width="14.20" height="6.50" rx="5.20" ry="3.25"/></g></g>
<g clip-path="url(#cs6)"><g fill="#2a2a2a" filter="url(#bl)"><rect x="463.00" y="157.40" width="22.60" height="6.70" rx="5.36" ry="3.35"/></g></g>
<g clip-path="url(#cs6)"><g fill="#2a2a2a" filter="url(#bl)"><rect x="488.60" y="158.40" width="14.40" height="6.90" rx="5.52" ry="3.45"/><rect x="497.00" y="156.40" width="15.80" height="7.40" rx="5.92" ry="3.70"/></g></g>
<g clip-path="url(#cs6)"><g fill="#2a2a2a" filter="url(#bl)"><rect x="516.00" y="156.90" width="22.20" height="7.60" rx="6.08" ry="3.80"/></g></g>
<g clip-path="url(#cs6)"><g fill="#2a2a2a" filter="url(#bl)"><rect x="541.20" y="156.40" width="23.00" height="7.70" rx="6.16" ry="3.85"/></g></g>
<g clip-path="url(#cs6)"><g fill="#2a2a2a" filter="url(#bl)"><rect x="566.80" y="157.40" width="23.80" height="7.10" rx="5.68" ry="3.55"/></g></g>
<g clip-path="url(#cs6)"><g fill="#2a2a2a" filter="url(#bl)"><rect x="593.30" y="156.90" width="22.10" height="8.90" rx="7.12" ry="4.45"/></g></g>
<line x1="36.25" y1="218.45" x2="36.25" y2="338.15" stroke="#0a0a0a" stroke-width="1.15"/>
<line x1="35.7" y1="337.6" x2="155.1" y2="337.6" stroke="#0a0a0a" stroke-width="1.15"/>
<line x1="30.65" y1="337.6" x2="36.25" y2="337.6" stroke="#0a0a0a" stroke-width="1.15"/>
<text x="28.65" y="341.2" font-size="10.0" text-anchor="end" font-weight="bold" font-style="normal">0.0</text>
<line x1="30.65" y1="298.07" x2="36.25" y2="298.07" stroke="#0a0a0a" stroke-width="1.15"/>
<text x="28.65" y="301.67" font-size="10.0" text-anchor="end" font-weight="bold" font-style="normal">0.5</text>
<line x1="30.65" y1="258.53" x2="36.25" y2="258.53" stroke="#0a0a0a" stroke-width="1.15"/>
<text x="28.65" y="262.13" font-size="10.0" text-anchor="end" font-weight="bold" font-style="normal">1.0</text>
<line x1="30.65" y1="219" x2="36.25" y2="219" stroke="#0a0a0a" stroke-width="1.15"/>
<text x="28.65" y="222.6" font-size="10.0" text-anchor="end" font-weight="bold" font-style="normal">1.5</text>
<line x1="36.25" y1="337.6" x2="36.25" y2="343.2" stroke="#0a0a0a" stroke-width="1.15"/>
<text x="36.25" y="354.0" font-size="10.0" text-anchor="middle" font-weight="bold" font-style="normal">0</text>
<line x1="53.15" y1="337.6" x2="53.15" y2="343.2" stroke="#0a0a0a" stroke-width="1.15"/>
<text x="53.15" y="354.0" font-size="10.0" text-anchor="middle" font-weight="bold" font-style="normal">1</text>
<line x1="70.05" y1="337.6" x2="70.05" y2="343.2" stroke="#0a0a0a" stroke-width="1.15"/>
<text x="70.05" y="354.0" font-size="10.0" text-anchor="middle" font-weight="bold" font-style="normal">2</text>
<line x1="86.95" y1="337.6" x2="86.95" y2="343.2" stroke="#0a0a0a" stroke-width="1.15"/>
<text x="86.95" y="354.0" font-size="10.0" text-anchor="middle" font-weight="bold" font-style="normal">3</text>
<line x1="103.85" y1="337.6" x2="103.85" y2="343.2" stroke="#0a0a0a" stroke-width="1.15"/>
<text x="103.85" y="354.0" font-size="10.0" text-anchor="middle" font-weight="bold" font-style="normal">4</text>
<line x1="120.75" y1="337.6" x2="120.75" y2="343.2" stroke="#0a0a0a" stroke-width="1.15"/>
<text x="120.75" y="354.0" font-size="10.0" text-anchor="middle" font-weight="bold" font-style="normal">5</text>
<line x1="137.65" y1="337.6" x2="137.65" y2="343.2" stroke="#0a0a0a" stroke-width="1.15"/>
<text x="137.65" y="354.0" font-size="10.0" text-anchor="middle" font-weight="bold" font-style="normal">6</text>
<line x1="154.55" y1="337.6" x2="154.55" y2="343.2" stroke="#0a0a0a" stroke-width="1.15"/>
<text x="154.55" y="354.0" font-size="10.0" text-anchor="middle" font-weight="bold" font-style="normal">7</text>
<circle cx="52.9" cy="235.1" r="2.05" fill="#000"/>
<circle cx="61.3" cy="268.2" r="2.05" fill="#000"/>
<circle cx="68.2" cy="245.5" r="2.05" fill="#000"/>
<circle cx="73.2" cy="269.0" r="2.05" fill="#000"/>
<circle cx="96.9" cy="295.7" r="2.05" fill="#000"/>
<circle cx="108.6" cy="306.0" r="2.05" fill="#000"/>
<circle cx="122.2" cy="296.5" r="2.05" fill="#000"/>
<circle cx="140.8" cy="277.0" r="2.05" fill="#000"/>
<line x1="52.9" y1="252.8" x2="140.8" y2="302.3" stroke="#0a0a0a" stroke-width="1.15"/>
<text x="9.6" y="278.7" font-size="10.2" text-anchor="middle" font-weight="bold" font-style="normal" transform="rotate(-90 9.6 278.7)">TGFBR<tspan class="rn">I</tspan> expression</text>
<text x="40.2" y="320.8" font-size="9.0" text-anchor="start" font-weight="bold" font-style="italic">r = -0.711</text>
<text x="40.2" y="331.8" font-size="9.0" text-anchor="start" font-weight="bold" font-style="italic">p = 0.048</text>
<text x="95.3" y="367.0" font-size="10.2" text-anchor="middle" font-weight="bold" font-style="normal">Relative miR-133b</text>
<text x="95.3" y="377.6" font-size="10.2" text-anchor="middle" font-weight="bold" font-style="normal">expression</text>
<line x1="214.5" y1="218.45" x2="214.5" y2="338.15" stroke="#0a0a0a" stroke-width="1.15"/>
<line x1="213.95" y1="337.6" x2="333.07" y2="337.6" stroke="#0a0a0a" stroke-width="1.15"/>
<line x1="208.9" y1="337.6" x2="214.5" y2="337.6" stroke="#0a0a0a" stroke-width="1.15"/>
<text x="206.4" y="341.2" font-size="10.0" text-anchor="end" font-weight="bold" font-style="normal">0.3</text>
<line x1="208.9" y1="307.95" x2="214.5" y2="307.95" stroke="#0a0a0a" stroke-width="1.15"/>
<text x="206.4" y="311.55" font-size="10.0" text-anchor="end" font-weight="bold" font-style="normal">0.6</text>
<line x1="208.9" y1="278.3" x2="214.5" y2="278.3" stroke="#0a0a0a" stroke-width="1.15"/>
<text x="206.4" y="281.9" font-size="10.0" text-anchor="end" font-weight="bold" font-style="normal">0.9</text>
<line x1="208.9" y1="248.65" x2="214.5" y2="248.65" stroke="#0a0a0a" stroke-width="1.15"/>
<text x="206.4" y="252.25" font-size="10.0" text-anchor="end" font-weight="bold" font-style="normal">1.2</text>
<line x1="208.9" y1="219" x2="214.5" y2="219" stroke="#0a0a0a" stroke-width="1.15"/>
<text x="206.4" y="222.6" font-size="10.0" text-anchor="end" font-weight="bold" font-style="normal">1.5</text>
<line x1="214.5" y1="337.6" x2="214.5" y2="343.2" stroke="#0a0a0a" stroke-width="1.15"/>
<text x="214.9" y="354.0" font-size="10.0" text-anchor="middle" font-weight="bold" font-style="normal">0</text>
<line x1="231.36" y1="337.6" x2="231.36" y2="343.2" stroke="#0a0a0a" stroke-width="1.15"/>
<text x="231.76" y="354.0" font-size="10.0" text-anchor="middle" font-weight="bold" font-style="normal">1</text>
<line x1="248.22" y1="337.6" x2="248.22" y2="343.2" stroke="#0a0a0a" stroke-width="1.15"/>
<text x="248.62" y="354.0" font-size="10.0" text-anchor="middle" font-weight="bold" font-style="normal">2</text>
<line x1="265.08" y1="337.6" x2="265.08" y2="343.2" stroke="#0a0a0a" stroke-width="1.15"/>
<text x="265.48" y="354.0" font-size="10.0" text-anchor="middle" font-weight="bold" font-style="normal">3</text>
<line x1="281.94" y1="337.6" x2="281.94" y2="343.2" stroke="#0a0a0a" stroke-width="1.15"/>
<text x="282.34" y="354.0" font-size="10.0" text-anchor="middle" font-weight="bold" font-style="normal">4</text>
<line x1="298.8" y1="337.6" x2="298.8" y2="343.2" stroke="#0a0a0a" stroke-width="1.15"/>
<text x="299.2" y="354.0" font-size="10.0" text-anchor="middle" font-weight="bold" font-style="normal">5</text>
<line x1="315.66" y1="337.6" x2="315.66" y2="343.2" stroke="#0a0a0a" stroke-width="1.15"/>
<text x="316.06" y="354.0" font-size="10.0" text-anchor="middle" font-weight="bold" font-style="normal">6</text>
<line x1="332.52" y1="337.6" x2="332.52" y2="343.2" stroke="#0a0a0a" stroke-width="1.15"/>
<text x="332.92" y="354.0" font-size="10.0" text-anchor="middle" font-weight="bold" font-style="normal">7</text>
<circle cx="231.2" cy="223.5" r="2.05" fill="#000"/>
<circle cx="251.6" cy="221.5" r="2.05" fill="#000"/>
<circle cx="239.6" cy="253.0" r="2.05" fill="#000"/>
<circle cx="246.5" cy="265.8" r="2.05" fill="#000"/>
<circle cx="287.0" cy="257.8" r="2.05" fill="#000"/>
<circle cx="275.2" cy="316.8" r="2.05" fill="#000"/>
<circle cx="300.5" cy="306.2" r="2.05" fill="#000"/>
<circle cx="319.1" cy="297.2" r="2.05" fill="#000"/>
<line x1="231.2" y1="236.5" x2="319" y2="309.1" stroke="#0a0a0a" stroke-width="1.15"/>
<text x="185.9" y="277.9" font-size="10.2" text-anchor="middle" font-weight="bold" font-style="normal" transform="rotate(-90 185.9 277.9)">TGFBR<tspan class="rn">II</tspan> expression</text>
<text x="219.0" y="320.8" font-size="9.0" text-anchor="start" font-weight="bold" font-style="italic">r = -0.726</text>
<text x="219.0" y="331.8" font-size="9.0" text-anchor="start" font-weight="bold" font-style="italic">p = 0.042</text>
<text x="273.6" y="367.0" font-size="10.2" text-anchor="middle" font-weight="bold" font-style="normal">Relative miR-133b</text>
<text x="273.6" y="377.6" font-size="10.2" text-anchor="middle" font-weight="bold" font-style="normal">expression</text>
<line x1="384.5" y1="218.45" x2="384.5" y2="338.15" stroke="#0a0a0a" stroke-width="1.15"/>
<line x1="383.95" y1="337.6" x2="504.05" y2="337.6" stroke="#0a0a0a" stroke-width="1.15"/>
<line x1="378.9" y1="337.6" x2="384.5" y2="337.6" stroke="#0a0a0a" stroke-width="1.15"/>
<text x="376.1" y="341.2" font-size="10.0" text-anchor="end" font-weight="bold" font-style="normal">0</text>
<line x1="378.9" y1="313.88" x2="384.5" y2="313.88" stroke="#0a0a0a" stroke-width="1.15"/>
<text x="376.1" y="317.48" font-size="10.0" text-anchor="end" font-weight="bold" font-style="normal">1</text>
<line x1="378.9" y1="290.16" x2="384.5" y2="290.16" stroke="#0a0a0a" stroke-width="1.15"/>
<text x="376.1" y="293.76" font-size="10.0" text-anchor="end" font-weight="bold" font-style="normal">2</text>
<line x1="378.9" y1="266.44" x2="384.5" y2="266.44" stroke="#0a0a0a" stroke-width="1.15"/>
<text x="376.1" y="270.04" font-size="10.0" text-anchor="end" font-weight="bold" font-style="normal">3</text>
<line x1="378.9" y1="242.72" x2="384.5" y2="242.72" stroke="#0a0a0a" stroke-width="1.15"/>
<text x="376.1" y="246.32" font-size="10.0" text-anchor="end" font-weight="bold" font-style="normal">4</text>
<line x1="378.9" y1="219" x2="384.5" y2="219" stroke="#0a0a0a" stroke-width="1.15"/>
<text x="376.1" y="222.6" font-size="10.0" text-anchor="end" font-weight="bold" font-style="normal">5</text>
<line x1="384.5" y1="337.6" x2="384.5" y2="343.2" stroke="#0a0a0a" stroke-width="1.15"/>
<text x="384.9" y="354.0" font-size="10.0" text-anchor="middle" font-weight="bold" font-style="normal">0</text>
<line x1="401.5" y1="337.6" x2="401.5" y2="343.2" stroke="#0a0a0a" stroke-width="1.15"/>
<text x="401.9" y="354.0" font-size="10.0" text-anchor="middle" font-weight="bold" font-style="normal">1</text>
<line x1="418.5" y1="337.6" x2="418.5" y2="343.2" stroke="#0a0a0a" stroke-width="1.15"/>
<text x="418.9" y="354.0" font-size="10.0" text-anchor="middle" font-weight="bold" font-style="normal">2</text>
<line x1="435.5" y1="337.6" x2="435.5" y2="343.2" stroke="#0a0a0a" stroke-width="1.15"/>
<text x="435.9" y="354.0" font-size="10.0" text-anchor="middle" font-weight="bold" font-style="normal">3</text>
<line x1="452.5" y1="337.6" x2="452.5" y2="343.2" stroke="#0a0a0a" stroke-width="1.15"/>
<text x="452.9" y="354.0" font-size="10.0" text-anchor="middle" font-weight="bold" font-style="normal">4</text>
<line x1="469.5" y1="337.6" x2="469.5" y2="343.2" stroke="#0a0a0a" stroke-width="1.15"/>
<text x="469.9" y="354.0" font-size="10.0" text-anchor="middle" font-weight="bold" font-style="normal">5</text>
<line x1="486.5" y1="337.6" x2="486.5" y2="343.2" stroke="#0a0a0a" stroke-width="1.15"/>
<text x="486.9" y="354.0" font-size="10.0" text-anchor="middle" font-weight="bold" font-style="normal">6</text>
<line x1="503.5" y1="337.6" x2="503.5" y2="343.2" stroke="#0a0a0a" stroke-width="1.15"/>
<text x="503.9" y="354.0" font-size="10.0" text-anchor="middle" font-weight="bold" font-style="normal">7</text>
<circle cx="422.0" cy="238.3" r="2.05" fill="#000"/>
<circle cx="410.0" cy="265.7" r="2.05" fill="#000"/>
<circle cx="401.6" cy="285.3" r="2.05" fill="#000"/>
<circle cx="417.0" cy="290.8" r="2.05" fill="#000"/>
<circle cx="446.2" cy="328.2" r="2.05" fill="#000"/>
<circle cx="458.0" cy="321.1" r="2.05" fill="#000"/>
<circle cx="471.5" cy="325.3" r="2.05" fill="#000"/>
<circle cx="490.2" cy="326.8" r="2.05" fill="#000"/>
<line x1="401.6" y1="267.7" x2="489.5" y2="337.1" stroke="#0a0a0a" stroke-width="1.15"/>
<text x="363.5" y="279.0" font-size="10.2" text-anchor="middle" font-weight="bold" font-style="normal" transform="rotate(-90 363.5 279.0)">pSMAD3 expression</text>
<text x="389.0" y="320.8" font-size="9.0" text-anchor="start" font-weight="bold" font-style="italic">r = -0.750</text>
<text x="389.0" y="331.8" font-size="9.0" text-anchor="start" font-weight="bold" font-style="italic">p = 0.032</text>
<text x="444.6" y="367.0" font-size="10.2" text-anchor="middle" font-weight="bold" font-style="normal">Relative miR-133b</text>
<text x="444.6" y="377.6" font-size="10.2" text-anchor="middle" font-weight="bold" font-style="normal">expression</text>
<line x1="562.5" y1="218.65" x2="562.5" y2="338.45" stroke="#0a0a0a" stroke-width="1.15"/>
<line x1="561.95" y1="337.9" x2="681.28" y2="337.9" stroke="#0a0a0a" stroke-width="1.15"/>
<line x1="556.9" y1="337.9" x2="562.5" y2="337.9" stroke="#0a0a0a" stroke-width="1.15"/>
<text x="554.4" y="341.5" font-size="10.0" text-anchor="end" font-weight="bold" font-style="normal">0.0</text>
<line x1="556.9" y1="298.33" x2="562.5" y2="298.33" stroke="#0a0a0a" stroke-width="1.15"/>
<text x="554.4" y="301.93" font-size="10.0" text-anchor="end" font-weight="bold" font-style="normal">0.5</text>
<line x1="556.9" y1="258.77" x2="562.5" y2="258.77" stroke="#0a0a0a" stroke-width="1.15"/>
<text x="554.4" y="262.37" font-size="10.0" text-anchor="end" font-weight="bold" font-style="normal">1.0</text>
<line x1="556.9" y1="219.2" x2="562.5" y2="219.2" stroke="#0a0a0a" stroke-width="1.15"/>
<text x="554.4" y="222.8" font-size="10.0" text-anchor="end" font-weight="bold" font-style="normal">1.5</text>
<line x1="562.5" y1="337.9" x2="562.5" y2="343.5" stroke="#0a0a0a" stroke-width="1.15"/>
<text x="563.4" y="354.3" font-size="10.0" text-anchor="middle" font-weight="bold" font-style="normal">0</text>
<line x1="579.39" y1="337.9" x2="579.39" y2="343.5" stroke="#0a0a0a" stroke-width="1.15"/>
<text x="580.29" y="354.3" font-size="10.0" text-anchor="middle" font-weight="bold" font-style="normal">1</text>
<line x1="596.28" y1="337.9" x2="596.28" y2="343.5" stroke="#0a0a0a" stroke-width="1.15"/>
<text x="597.18" y="354.3" font-size="10.0" text-anchor="middle" font-weight="bold" font-style="normal">2</text>
<line x1="613.17" y1="337.9" x2="613.17" y2="343.5" stroke="#0a0a0a" stroke-width="1.15"/>
<text x="614.07" y="354.3" font-size="10.0" text-anchor="middle" font-weight="bold" font-style="normal">3</text>
<line x1="630.06" y1="337.9" x2="630.06" y2="343.5" stroke="#0a0a0a" stroke-width="1.15"/>
<text x="630.96" y="354.3" font-size="10.0" text-anchor="middle" font-weight="bold" font-style="normal">4</text>
<line x1="646.95" y1="337.9" x2="646.95" y2="343.5" stroke="#0a0a0a" stroke-width="1.15"/>
<text x="647.85" y="354.3" font-size="10.0" text-anchor="middle" font-weight="bold" font-style="normal">5</text>
<line x1="663.84" y1="337.9" x2="663.84" y2="343.5" stroke="#0a0a0a" stroke-width="1.15"/>
<text x="664.74" y="354.3" font-size="10.0" text-anchor="middle" font-weight="bold" font-style="normal">6</text>
<line x1="680.73" y1="337.9" x2="680.73" y2="343.5" stroke="#0a0a0a" stroke-width="1.15"/>
<text x="681.63" y="354.3" font-size="10.0" text-anchor="middle" font-weight="bold" font-style="normal">7</text>
<circle cx="594.5" cy="234.6" r="2.05" fill="#000"/>
<circle cx="579.2" cy="259.0" r="2.05" fill="#000"/>
<circle cx="623.2" cy="257.6" r="2.05" fill="#000"/>
<circle cx="599.5" cy="273.5" r="2.05" fill="#000"/>
<circle cx="587.7" cy="288.2" r="2.05" fill="#000"/>
<circle cx="635.2" cy="311.8" r="2.05" fill="#000"/>
<circle cx="648.7" cy="302.6" r="2.05" fill="#000"/>
<circle cx="667.1" cy="315.6" r="2.05" fill="#000"/>
<line x1="579.2" y1="255.4" x2="667.1" y2="314.1" stroke="#0a0a0a" stroke-width="1.15"/>
<text x="534.3" y="279.1" font-size="10.2" text-anchor="middle" font-weight="bold" font-style="normal" transform="rotate(-90 534.3 279.1)">REST expression</text>
<text x="565.8" y="320.8" font-size="9.0" text-anchor="start" font-weight="bold" font-style="italic">r = -0.721</text>
<text x="565.8" y="331.8" font-size="9.0" text-anchor="start" font-weight="bold" font-style="italic">p = 0.044</text>
<text x="621.6" y="367.0" font-size="10.2" text-anchor="middle" font-weight="bold" font-style="normal">Relative miR-133b</text>
<text x="621.6" y="377.6" font-size="10.2" text-anchor="middle" font-weight="bold" font-style="normal">expression</text>
</svg></body></html>
